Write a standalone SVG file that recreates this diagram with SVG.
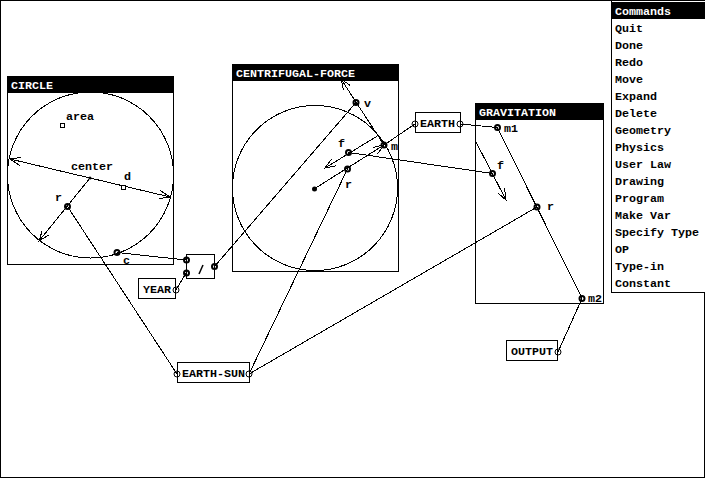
<svg xmlns="http://www.w3.org/2000/svg" width="705" height="478" viewBox="0 0 705 478">
<style>
text{font-family:"Liberation Mono","DejaVu Sans Mono",monospace;font-weight:bold;font-size:11.67px;fill:#000}
.t{fill:#fff}
.b{fill:#fff;stroke:#000;stroke-width:1;shape-rendering:crispEdges}
.s{fill:none;stroke:#000;stroke-width:1;shape-rendering:crispEdges}
.w{fill:none;stroke:#000;stroke-width:1;shape-rendering:crispEdges}
.bar{fill:#000;stroke:#000;shape-rendering:crispEdges}
.p{fill:none;stroke:#000;stroke-width:1}
.q{fill:none;stroke:#000;stroke-width:2}
</style>
<defs>
<marker id="a" markerUnits="userSpaceOnUse" markerWidth="24" markerHeight="24" refX="12" refY="12" orient="auto" overflow="visible">
<path d="M1,8 L12,12 L2,16" fill="none" stroke="#000" shape-rendering="crispEdges"/>
</marker>
</defs>
<rect x="0.5" y="0.5" width="704" height="477" fill="#fff" stroke="#000"/>

<g id="circle">
<rect class="b" x="7.5" y="76.5" width="166" height="188"/>
<rect class="bar" x="7.5" y="76.5" width="166" height="16"/>
<text class="t" x="11" y="89">CIRCLE</text>
<circle class="w" cx="90.5" cy="175" r="83"/>
<rect class="s" x="60.5" y="123.5" width="4" height="4"/>
<text x="66" y="120">area</text>
<text x="71" y="170">center</text>
<text x="124" y="180">d</text>
<text x="55" y="201">r</text>
<text x="123" y="264">c</text>
<line class="w" x1="90" y1="178" x2="10" y2="159" marker-end="url(#a)"/>
<line class="w" x1="90" y1="178" x2="170" y2="197" marker-end="url(#a)"/>
<line class="w" x1="90" y1="178" x2="39" y2="241" marker-end="url(#a)"/>
<circle cx="90" cy="178" r="1.5"/>
<rect class="b" x="121.5" y="185.5" width="4" height="4"/>
<circle class="q" cx="67.5" cy="206.5" r="2.5"/>
<circle class="q" cx="117" cy="252.5" r="2.5"/>
</g>

<g id="centrifugal-force">
<rect class="b" x="232.5" y="64.5" width="166" height="207"/>
<rect class="bar" x="232.5" y="64.5" width="166" height="16"/>
<text class="t" x="236" y="77">CENTRIFUGAL-FORCE</text>
<circle class="w" cx="315" cy="188" r="82.5"/>
<text x="364" y="107">v</text>
<text x="338" y="147">f</text>
<text x="391" y="150">m</text>
<text x="345" y="188">r</text>
<line class="w" x1="384" y1="145" x2="341" y2="79" marker-end="url(#a)"/>
<line class="w" x1="379" y1="135" x2="325" y2="168" marker-end="url(#a)"/>
<line class="w" x1="314" y1="189" x2="384" y2="145" marker-end="url(#a)"/>
<circle cx="314.5" cy="189" r="2.5"/>
<circle class="q" cx="356" cy="102.5" r="2.5"/>
<circle class="q" cx="348.5" cy="152.5" r="2.5"/>
<circle class="q" cx="347.5" cy="169" r="2.5"/>
<circle class="q" cx="384" cy="145" r="2.5"/>
</g>

<g id="gravitation">
<rect class="b" x="475.5" y="103.5" width="128" height="200"/>
<rect class="bar" x="475.5" y="103.5" width="128" height="16"/>
<text class="t" x="479" y="116">GRAVITATION</text>
<text x="504" y="132">m1</text>
<text x="497" y="169">f</text>
<text x="547" y="210">r</text>
<text x="588" y="302">m2</text>
<line class="w" x1="497" y1="127" x2="582" y2="298"/>
<line class="w" x1="475" y1="140" x2="506" y2="200" marker-end="url(#a)"/>
<circle class="q" cx="497.5" cy="127.5" r="2.5"/>
<circle class="q" cx="492.5" cy="173.5" r="2.5"/>
<circle class="q" cx="537" cy="207" r="2.5"/>
<circle class="q" cx="582" cy="298.5" r="2.5"/>
</g>

<g id="divide">
<rect class="b" x="186.5" y="254.5" width="28" height="24"/>
<line x1="199" y1="274" x2="203" y2="265" stroke="#000" stroke-width="1.5"/>
<circle class="q" cx="186.5" cy="260" r="2.5"/>
<circle class="q" cx="186.5" cy="273" r="2.5"/>
<circle class="q" cx="214.5" cy="266.5" r="2.5"/>
</g>

<g id="year">
<rect class="b" x="138.5" y="278.5" width="37" height="20"/>
<text x="143" y="293">YEAR</text>
<circle class="p" cx="176" cy="290" r="3"/>
</g>

<g id="earth-sun">
<rect class="b" x="177.5" y="362.5" width="72" height="20"/>
<text x="182" y="377">EARTH-SUN</text>
<circle class="p" cx="177" cy="374" r="3"/>
<circle class="p" cx="249" cy="374" r="3"/>
</g>

<g id="earth">
<rect class="b" x="415.5" y="112.5" width="45" height="20"/>
<text x="420" y="127">EARTH</text>
<circle class="p" cx="415" cy="124" r="3"/>
<circle class="p" cx="460" cy="124" r="3"/>
</g>

<g id="output">
<rect class="b" x="506.5" y="340.5" width="51" height="20"/>
<text x="511" y="355">OUTPUT</text>
<circle class="p" cx="558" cy="352" r="3"/>
</g>

<g id="connectors" class="w">
<line x1="67.5" y1="206.5" x2="177" y2="374"/>
<line x1="117" y1="252.5" x2="186" y2="260"/>
<line x1="176" y1="290" x2="186" y2="273"/>
<line x1="186.5" y1="260" x2="186.5" y2="273"/>
<line x1="214.5" y1="266.5" x2="356" y2="102.5"/>
<line x1="249" y1="374" x2="347.5" y2="169"/>
<line x1="249" y1="374" x2="537" y2="207"/>
<line x1="348.5" y1="152.5" x2="492.5" y2="173.5"/>
<line x1="384" y1="145" x2="415" y2="124"/>
<line x1="460" y1="124" x2="497.5" y2="127.5"/>
<line x1="558" y1="352" x2="582" y2="298.5"/>
</g>

<g id="commands">
<rect class="b" x="611.5" y="0.5" width="94" height="292"/>
<rect class="bar" x="612" y="2.5" width="93" height="16"/>
<text class="t" x="615" y="15">Commands</text>
<text x="615" y="32">Quit</text>
<text x="615" y="49">Done</text>
<text x="615" y="66">Redo</text>
<text x="615" y="83">Move</text>
<text x="615" y="100">Expand</text>
<text x="615" y="117">Delete</text>
<text x="615" y="134">Geometry</text>
<text x="615" y="151">Physics</text>
<text x="615" y="168">User Law</text>
<text x="615" y="185">Drawing</text>
<text x="615" y="202">Program</text>
<text x="615" y="219">Make Var</text>
<text x="615" y="236">Specify Type</text>
<text x="615" y="253">OP</text>
<text x="615" y="270">Type-in</text>
<text x="615" y="287">Constant</text>
</g>
</svg>
